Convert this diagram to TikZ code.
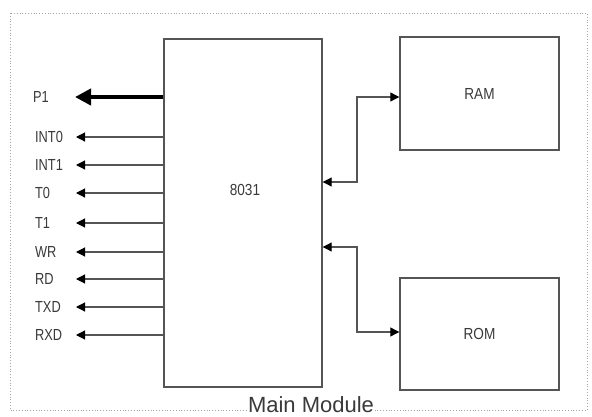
\documentclass[tikz,border=0pt]{standalone}
\usepackage{fontspec}
\setmainfont{Liberation Sans}
\usetikzlibrary{arrows.meta}
\definecolor{ln}{HTML}{555555}
\definecolor{tx}{HTML}{3A3A3A}
\begin{document}
\begin{tikzpicture}[x=1pt,y=-1pt,
  blk/.style={draw=ln,line width=1.4pt,fill=white,inner sep=0pt},
  lbl/.style={text=tx,font=\fontsize{16}{16}\selectfont,anchor=west,inner sep=0pt,xscale=0.8},
  txt/.style={text=tx,font=\fontsize{16}{16}\selectfont,xscale=0.85},
  sig/.style={draw=ln,line width=1.1pt,-{Triangle[length=9pt,width=9pt,color=black]}},
  bus/.style={draw=ln,line width=1.1pt,{Triangle[length=9pt,width=9pt,color=black]}-{Triangle[length=9pt,width=9pt,color=black]}}]
\useasboundingbox (0,0) rectangle (592,416);
\fill[white] (0,0) rectangle (592,416);
\draw[gray!70,dotted,line width=0.8pt] (10,13) rectangle (587,410);
% blocks
\node[blk,minimum width=158pt,minimum height=348pt] (cpu) at (243,213) {};
\node[txt] (cpul) at (245,190) {8031};
\node[blk,minimum width=159pt,minimum height=113pt] (ram) at (479.5,93.5) {};
\node[txt] (raml) at (ram.center) {RAM};
\node[blk,minimum width=159pt,minimum height=112pt] (rom) at (479.5,334) {};
\node[txt] (roml) at (rom.center) {ROM};
\node[fill=white,text=tx,font=\fontsize{22}{22}\selectfont,inner sep=1pt] (mm) at (311,405) {Main Module};
% signals
\coordinate (p1t) at (75,97);
\draw[draw=black,line width=4.5pt,-{Triangle[length=16pt,width=16pt]}] (cpu.west |- p1t) -- (p1t);
\node[lbl] (p1) at (33,97) {P1};
\foreach \n/\t/\y in {i0/INT0/137,i1/INT1/165,t0/T0/193,t1/T1/223,wr/WR/252,rd/RD/279,txd/TXD/307,rxd/RXD/335}{
  \coordinate (\n t) at (76,\y);
  \draw[sig] (cpu.west |- \n t) -- (\n t);
  \node[lbl] (\n) at (35,\y) {\t};
}
% buses
\coordinate (ra) at (357,182);
\coordinate (rb) at (357,97);
\draw[bus] (cpu.east |- ra) -- (ra) -- (rb) -- (ram.west |- rb);
\coordinate (oa) at (357,247);
\coordinate (ob) at (357,332);
\draw[bus] (cpu.east |- oa) -- (oa) -- (ob) -- (rom.west |- ob);
\end{tikzpicture}
\end{document}
